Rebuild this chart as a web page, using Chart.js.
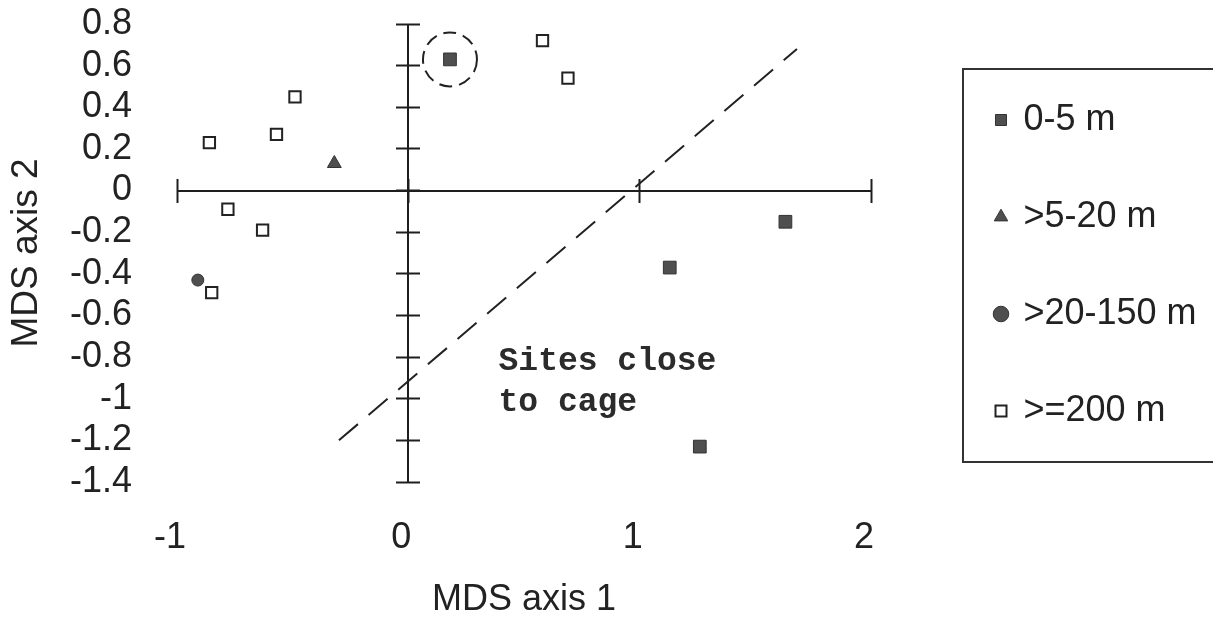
<!DOCTYPE html>
<html>
<head>
<meta charset="utf-8">
<script src="https://cdn.jsdelivr.net/npm/chart.js@4"></script>
<style>
  html, body { margin: 0; padding: 0; background: #fff; }
  #wrap { width: 1213px; height: 618px; }
</style>
</head>
<body>
<div id="wrap"><canvas id="mds"></canvas></div>
<script>
// sites grouped by distance from the cage, (MDS axis 1, MDS axis 2)
var groupNames = ["0-5 m", ">5-20 m", ">20-150 m", ">=200 m"];
var sites0to5 = [{x: 0.18, y: 0.63}, {x: 1.13, y: -0.37}, {x: 1.63, y: -0.15}, {x: 1.26, y: -1.23}];
var sites5to20 = [{x: -0.32, y: 0.13}];
var sites20to150 = [{x: -0.91, y: -0.43}];
var sites200 = [
    {x: -0.86, y: 0.23}, {x: -0.57, y: 0.27}, {x: -0.49, y: 0.45},
    {x: -0.78, y: -0.09}, {x: -0.63, y: -0.19}, {x: -0.85, y: -0.49},
    {x: 0.58, y: 0.72}, {x: 0.69, y: 0.54}
];
var circled = [{x: 0.18, y: 0.63}];
var divider = [{x: -0.3, y: -1.2}, {x: 1.68, y: 0.68}];
var noteAt = {x: 0.39, y: -0.82};
var noteLines = ["Sites close", "to cage"];

var xMin = -1, xMax = 2, xStep = 1;
var yMin = -1.4, yMax = 0.8, yStep = 0.2;

Chart.defaults.font.family = '"Liberation Sans", Arial, Helvetica, sans-serif';
Chart.defaults.color = '#222';

var ink = '#1e1e1e';
var clear = 'rgba(0,0,0,0)';
var fmt = function (v) { return String(Math.round(v * 10) / 10); };
var onlyZero = function (c) { return c.tick && c.tick.value === 0 ? ink : clear; };
var noSpace = function (s) { if (s.isHorizontal()) s.height = 0; else s.width = 0; };

// legend width depends on text, so work out the right padding from it
var mctx = document.createElement('canvas').getContext('2d');
mctx.font = '36px ' + Chart.defaults.font.family;
var longest = Math.max.apply(null, groupNames.map(function (t) { return mctx.measureText(t).width; }));
var padRight = 1213 - 935.5 - (98 + longest);

// dashed ring around the circled site
var dashCircle = {
    id: 'dashCircle',
    beforeDatasetDraw: function (chart, args) {
        if (args.index === 4) chart.ctx.setLineDash([13, 7]);
    },
    afterDatasetDraw: function (chart, args) {
        if (args.index === 4) chart.ctx.setLineDash([]);
    }
};

var notePlugin = {
    id: 'note',
    afterDatasetsDraw: function (chart) {
        var ctx = chart.ctx;
        var x = chart.scales.x.getPixelForValue(noteAt.x);
        var y = chart.scales.y.getPixelForValue(noteAt.y);
        ctx.save();
        ctx.font = 'bold 33px "Liberation Mono", "Courier New", monospace';
        ctx.fillStyle = '#2b2b2b';
        ctx.textBaseline = 'middle';
        noteLines.forEach(function (t, i) { ctx.fillText(t, x, y + i * 41); });
        ctx.restore();
    }
};

var legendFrame = {
    id: 'legendFrame',
    afterDraw: function (chart) {
        var hb = chart.legend.legendHitBoxes;
        var first = hb[0], last = hb[hb.length - 1];
        var top = first.top - 33;
        var ctx = chart.ctx;
        ctx.save();
        ctx.strokeStyle = '#333';
        ctx.lineWidth = 2;
        ctx.strokeRect(first.left - 33.5, top, chart.width, last.top + last.height + 33 - top);
        ctx.restore();
    }
};

var solid = {backgroundColor: '#4f4f4f', borderColor: '#333', xAxisID: 'x', yAxisID: 'y'};

new Chart(document.getElementById('mds'), {
    type: 'scatter',
    data: {
        datasets: [
            Object.assign({label: groupNames[0], data: sites0to5, pointStyle: 'rect', pointRadius: 9, borderWidth: 1}, solid),
            Object.assign({label: groupNames[1], data: sites5to20, pointStyle: 'triangle', pointRadius: 8, borderWidth: 1}, solid),
            Object.assign({label: groupNames[2], data: sites20to150, pointStyle: 'circle', pointRadius: 6, borderWidth: 1}, solid),
            {label: groupNames[3], data: sites200, pointStyle: 'rect', pointRadius: 8, backgroundColor: '#fff', borderColor: '#222', borderWidth: 2, xAxisID: 'x', yAxisID: 'y'},
            {label: 'circled', data: circled, pointStyle: 'circle', pointRadius: 27, backgroundColor: clear, borderColor: '#222', borderWidth: 2, clip: false, xAxisID: 'x', yAxisID: 'y'},
            {type: 'line', label: 'divider', data: divider, showLine: true, borderColor: '#222', borderWidth: 2, borderDash: [25, 14], pointRadius: 0, fill: false, clip: false, xAxisID: 'x', yAxisID: 'y'}
        ]
    },
    options: {
        responsive: true,
        maintainAspectRatio: false,
        animation: false,
        // the big ring would otherwise add padding around the plot
        layout: {autoPadding: false, padding: {top: 24, right: padRight, bottom: 0, left: 0}},
        plugins: {
            tooltip: {enabled: false},
            legend: {
                position: 'right',
                align: 'start',
                maxWidth: 600,
                title: {display: true, text: '', padding: 0, font: {size: 17, lineHeight: 1}},
                labels: {
                    usePointStyle: true,
                    boxWidth: 9,
                    boxHeight: 11,
                    padding: 61,
                    color: '#222',
                    font: {size: 36},
                    filter: function (item) { return item.datasetIndex < 4; }
                }
            }
        },
        scales: {
            x: {
                type: 'linear', position: 'bottom', min: xMin, max: xMax,
                ticks: {stepSize: xStep, autoSkip: false, padding: 34, labelOffset: -7, font: {size: 36}, callback: fmt},
                grid: {drawTicks: false, lineWidth: 2, color: onlyZero},
                border: {display: false},
                title: {display: true, text: 'MDS axis 1', font: {size: 36, lineHeight: 1}, padding: 0},
                afterFit: function (s) { s.height = 136; }
            },
            y: {
                type: 'linear', position: 'left', min: yMin, max: yMax,
                ticks: {stepSize: yStep, autoSkip: false, padding: 3, font: {size: 36, lineHeight: 1}, callback: fmt},
                // invisible tick marks push the labels away from the plot
                grid: {drawTicks: true, tickLength: 42, tickColor: clear, lineWidth: 2, color: onlyZero},
                border: {display: false},
                title: {display: true, text: 'MDS axis 2', font: {size: 37}, padding: {top: 5, bottom: 0}},
                afterFit: function (s) { s.width = 177; }
            },
            // empty gap between the plot and the legend
            yr: {
                type: 'linear', axis: 'y', position: 'right', min: yMin, max: yMax,
                ticks: {display: false}, grid: {display: false}, border: {display: false},
                afterFit: function (s) { s.width = 64.5; }
            },
            // tick crosses on the axes through the origin
            xc: {
                type: 'linear', axis: 'x', position: {y: 0}, min: xMin, max: xMax,
                ticks: {display: false, stepSize: xStep, autoSkip: false},
                grid: {drawOnChartArea: false, tickLength: 12, tickColor: ink, tickWidth: 2},
                border: {display: false}, afterFit: noSpace
            },
            xc2: {
                type: 'linear', axis: 'x', position: {y: 0}, min: xMin, max: xMax,
                ticks: {display: false, stepSize: xStep, autoSkip: false},
                grid: {drawOnChartArea: false, tickLength: -12, tickColor: ink, tickWidth: 2},
                border: {display: false}, afterFit: noSpace
            },
            yc: {
                type: 'linear', axis: 'y', position: {x: 0}, min: yMin, max: yMax,
                ticks: {display: false, stepSize: yStep, autoSkip: false},
                grid: {drawOnChartArea: false, tickLength: 12, tickColor: ink, tickWidth: 2},
                border: {display: false}, afterFit: noSpace
            },
            yc2: {
                type: 'linear', axis: 'y', position: {x: 0}, min: yMin, max: yMax,
                ticks: {display: false, stepSize: yStep, autoSkip: false},
                grid: {drawOnChartArea: false, tickLength: -12, tickColor: ink, tickWidth: 2},
                border: {display: false}, afterFit: noSpace
            }
        }
    },
    plugins: [dashCircle, notePlugin, legendFrame]
});
</script>
</body>
</html>
